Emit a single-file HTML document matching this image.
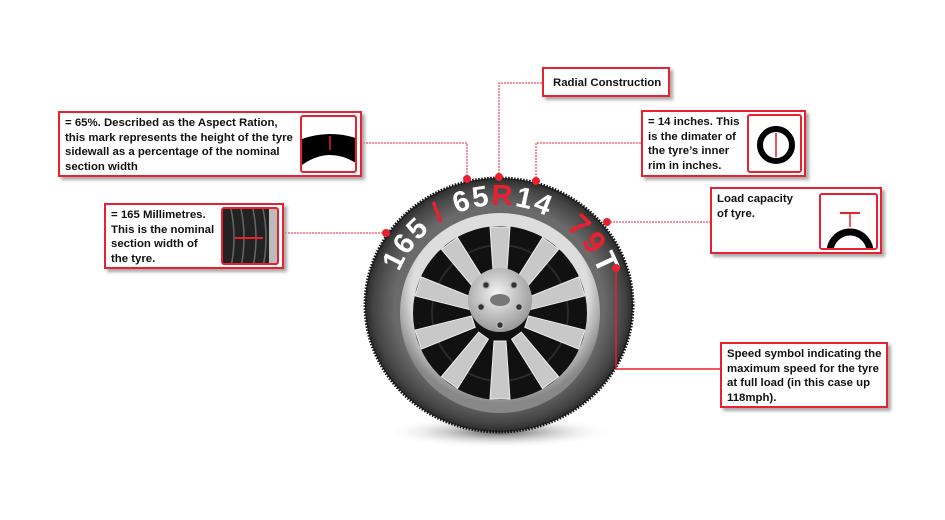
<!DOCTYPE html>
<html><head><meta charset="utf-8">
<style>
body{margin:0;background:#fff;}
.wrap{position:relative;width:945px;height:520px;overflow:hidden;font-family:"Liberation Sans",sans-serif;}
.box{position:absolute;border:2px solid #e8202f;background:#fff;box-shadow:3px 3px 3px #aaa;box-sizing:border-box;font-weight:bold;font-size:11.4px;line-height:14.5px;color:#111;padding:3px 5px;white-space:nowrap;}
.ic{position:absolute;border:2.5px solid #e8202f;border-radius:3px;background:#fff;box-sizing:border-box;overflow:hidden;}
svg{position:absolute;left:0;top:0;}
</style></head><body><div class="wrap">
<svg width="945" height="520" viewBox="0 0 945 520">
<defs>
<radialGradient id="sh" cx="50%" cy="50%" r="50%"><stop offset="0" stop-color="#555"/><stop offset="1" stop-color="#fff" stop-opacity="0"/></radialGradient>
<radialGradient id="tire" cx="50%" cy="50%" r="52%"><stop offset="0.75" stop-color="#6a6a6a"/><stop offset="0.9" stop-color="#444"/><stop offset="1" stop-color="#1a1a1a"/></radialGradient>
<radialGradient id="rim" cx="50%" cy="40%" r="55%"><stop offset="0.8" stop-color="#ddd"/><stop offset="1" stop-color="#888"/></radialGradient>
<radialGradient id="hub" cx="45%" cy="40%" r="60%"><stop offset="0" stop-color="#f4f4f4"/><stop offset="1" stop-color="#999"/></radialGradient>
<path id="arc" d="M391,313 A108,108 0 0 1 607,313"/>
</defs>
<ellipse cx="499" cy="432" rx="115" ry="16" fill="url(#sh)"/>
<ellipse cx="499" cy="305" rx="134" ry="127" fill="url(#tire)" stroke="#111" stroke-width="3" stroke-dasharray="1.5 1.5"/>
<circle cx="500" cy="313" r="100" fill="url(#rim)"/>
<circle cx="500" cy="313" r="87" fill="#111"/>
<circle cx="500" cy="313" r="68" fill="none" stroke="#2a2a2a" stroke-width="2"/>
<g fill="#c8c8c8" stroke="#eee" stroke-width="1">
<g id="sp"><polygon points="494,285 506,285 510,227 490,227"/></g>
<use href="#sp" transform="rotate(36 500 313)"/>
<use href="#sp" transform="rotate(72 500 313)"/>
<use href="#sp" transform="rotate(108 500 313)"/>
<use href="#sp" transform="rotate(144 500 313)"/>
<use href="#sp" transform="rotate(180 500 313)"/>
<use href="#sp" transform="rotate(216 500 313)"/>
<use href="#sp" transform="rotate(252 500 313)"/>
<use href="#sp" transform="rotate(288 500 313)"/>
<use href="#sp" transform="rotate(324 500 313)"/>
</g>
<circle cx="500" cy="300" r="32" fill="url(#hub)"/>
<ellipse cx="500" cy="300" rx="10" ry="6" fill="#777"/>
<g fill="#333" stroke="#bbb" stroke-width="1.5">
<circle cx="486" cy="285" r="3.5"/><circle cx="514" cy="285" r="3.5"/><circle cx="481" cy="307" r="3.5"/><circle cx="519" cy="307" r="3.5"/><circle cx="500" cy="325" r="3.5"/>
</g>
<text font-family="Liberation Sans" font-weight="bold" font-size="29" fill="#fff"><textPath href="#arc" startOffset="42" textLength="177" lengthAdjust="spacing">165 <tspan fill="#e8202f">/</tspan> 65<tspan fill="#e8202f">R</tspan>14</textPath></text>
<text font-family="Liberation Sans" font-weight="bold" font-size="31" fill="#e8202f" letter-spacing="3"><textPath href="#arc" startOffset="241">79<tspan fill="#fff">T</tspan></textPath></text>
<g stroke="#e8202f" stroke-width="1" fill="none" stroke-dasharray="2 1">
<polyline points="386,233 284,233"/>
<polyline points="467,179 467,143 362,143"/>
<polyline points="499,177 499,83 542,83"/>
<polyline points="536,181 536,143 641,143"/>
<polyline points="607,222 710,222"/>
<polyline points="616,268 616,369 720,369" stroke-dasharray="none" stroke-width="1.5"/>
</g>
<g fill="#e8202f"><circle cx="386" cy="233" r="4"/><circle cx="467" cy="179" r="4"/><circle cx="499" cy="177" r="4"/><circle cx="536" cy="181" r="4"/><circle cx="607" cy="222" r="4"/><circle cx="616" cy="268" r="4"/></g>
</svg>

<div class="box" style="left:58px;top:111px;width:304px;height:66px;">= 65%. Described as the Aspect Ration,<br>this mark represents the height of the tyre<br>sidewall as a percentage of the nominal<br>section width</div>
<div class="ic" style="left:300px;top:115px;width:57px;height:58px;"><svg width="57" height="58"><path d="M0,22 Q28,12 57,22 L57,48 Q28,28 0,48Z" fill="#000"/><line x1="28" y1="19" x2="28" y2="33" stroke="#e8202f" stroke-width="1.5"/></svg></div>

<div class="box" style="left:104px;top:203px;width:180px;height:66px;">= 165 Millimetres.<br>This is the nominal<br>section width of<br>the tyre.</div>
<div class="ic" style="left:221px;top:207px;width:58px;height:58px;background:#222;"><svg width="58" height="58"><g stroke="#666" stroke-width="1.5" fill="none"><path d="M8,0 Q14,29 8,58"/><path d="M18,0 Q24,29 18,58"/><path d="M30,0 Q36,29 30,58"/><path d="M40,0 Q46,29 40,58"/></g><rect x="46" y="0" width="12" height="58" fill="#bbb"/><line x1="12" y1="29" x2="40" y2="29" stroke="#e8202f" stroke-width="2"/></svg></div>

<div class="box" style="left:542px;top:67px;width:128px;height:30px;padding-top:7px;padding-left:9px;">Radial Construction</div>

<div class="box" style="left:641px;top:110px;width:165px;height:67px;">= 14 inches. This<br>is the dimater of<br>the tyre’s inner<br>rim in inches.</div>
<div class="ic" style="left:747px;top:114px;width:55px;height:59px;"><svg width="55" height="59"><circle cx="27" cy="29" r="16" fill="none" stroke="#000" stroke-width="6"/><line x1="27" y1="17" x2="27" y2="41" stroke="#e8202f" stroke-width="1.5"/></svg></div>

<div class="box" style="left:710px;top:187px;width:172px;height:67px;">Load capacity<br>of tyre.</div>
<div class="ic" style="left:819px;top:193px;width:59px;height:57px;"><svg width="59" height="57"><path d="M9,57 A20,20 0 0 1 49,57" fill="none" stroke="#000" stroke-width="7"/><line x1="19" y1="18" x2="39" y2="18" stroke="#e8202f" stroke-width="2"/><line x1="29" y1="18" x2="29" y2="32" stroke="#e8202f" stroke-width="1.5"/></svg></div>

<div class="box" style="left:720px;top:342px;width:168px;height:66px;">Speed symbol indicating the<br>maximum speed for the tyre<br>at full load (in this case up<br>118mph).</div>
</div></body></html>
